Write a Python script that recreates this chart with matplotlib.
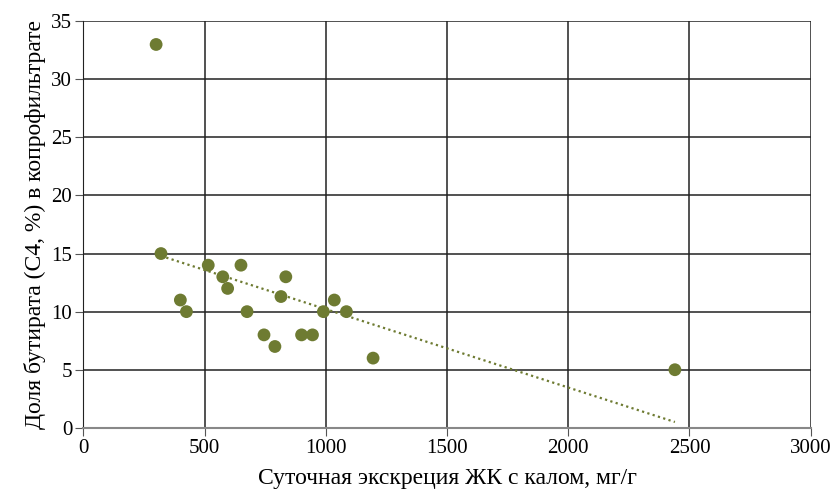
import matplotlib.pyplot as plt

plt.rcParams['font.family'] = ['Liberation Serif', 'DejaVu Serif']

# bile acid excretion (mg/g) vs butyrate share (C4, %)
excretion = [300, 320, 400, 425, 515, 575, 595, 650, 675, 745, 790,
             815, 835, 900, 945, 990, 1035, 1085, 1195, 2440]
butyrate = [33, 15, 11, 10, 14, 13, 12, 14, 10, 8, 7,
            11.3, 13, 8, 8, 10, 11, 10, 6, 5]

# trend line as drawn in the source (start / end)
trend_x = [320, 2440]
trend_y = [14.8, 0.5]

x_ticks = [0, 500, 1000, 1500, 2000, 2500, 3000]
y_ticks = [0, 5, 10, 15, 20, 25, 30, 35]

green = '#6e7b32'

fig, ax = plt.subplots(figsize=(8.34, 4.94), dpi=100)
fig.subplots_adjust(left=0.1, right=0.972, top=0.957, bottom=0.134)

ax.scatter(excretion, butyrate, s=85, color=green, zorder=3, edgecolors='none')
ax.plot(trend_x, trend_y, linestyle=(0, (1, 1.5)), color=green, lw=1.6, zorder=2)

ax.set_xlim(0, 3000)
ax.set_ylim(0, 35)
ax.set_xticks(x_ticks)
ax.set_yticks(y_ticks)
ax.grid(True, color='#222222', lw=1.1)
ax.set_axisbelow(True)
for s in ['top', 'right']:
    ax.spines[s].set_visible(False)
ax.spines['left'].set_color('#222222')
ax.spines['bottom'].set_color('#888888')
ax.spines['bottom'].set_linewidth(1.5)
ax.tick_params(length=6, color='#555555', labelsize=15, pad=2)

ax.set_xlabel('Суточная экскреция ЖК с калом, мг/г', fontsize=17, labelpad=7)
ax.set_ylabel('Доля бутирата (С4, %) в копрофильтрате', fontsize=17, labelpad=4)

fig.savefig('out.png')
